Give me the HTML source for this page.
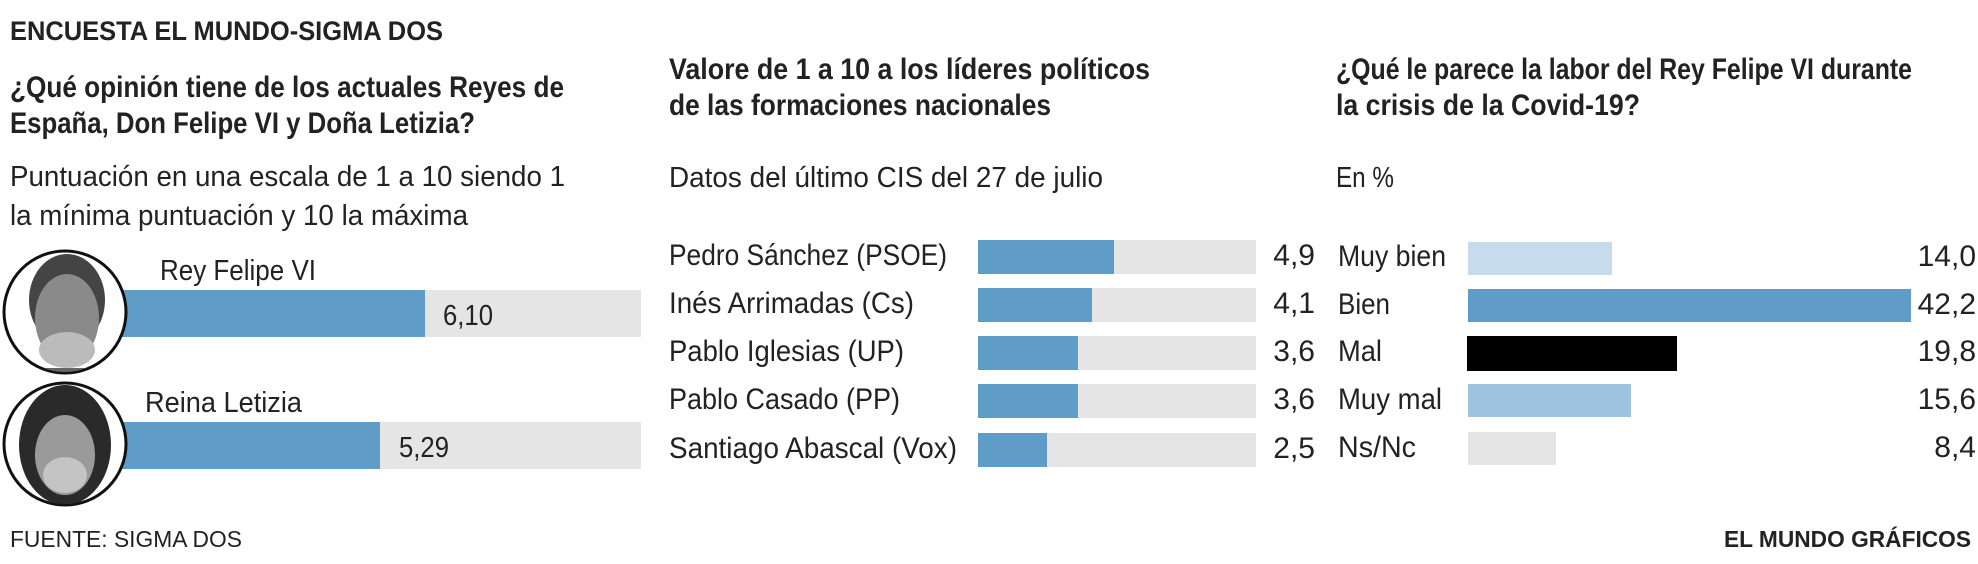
<!DOCTYPE html>
<html><head><meta charset="utf-8"><style>
html,body{margin:0;padding:0;background:#fff;}
svg{display:block;}
text{font-family:"Liberation Sans",sans-serif;fill:#222;}
.b{font-weight:bold;}
</style></head><body>
<svg width="1978" height="564" viewBox="0 0 1978 564" xmlns="http://www.w3.org/2000/svg">
<defs>
<clipPath id="c1"><circle cx="65" cy="312" r="60"/></clipPath>
<clipPath id="c2"><circle cx="65" cy="444" r="60"/></clipPath>
</defs>
<!-- title -->
<text x="10" y="40" class="b" font-size="27" textLength="433" lengthAdjust="spacingAndGlyphs">ENCUESTA EL MUNDO-SIGMA DOS</text>

<!-- Panel 1 -->
<text x="10" y="97" class="b" font-size="30" textLength="554" lengthAdjust="spacingAndGlyphs">¿Qué opinión tiene de los actuales Reyes de</text>
<text x="10" y="133" class="b" font-size="30" textLength="465" lengthAdjust="spacingAndGlyphs">España, Don Felipe VI y Doña Letizia?</text>
<text x="10" y="186" font-size="29" textLength="555" lengthAdjust="spacingAndGlyphs">Puntuación en una escala de 1 a 10 siendo 1</text>
<text x="10" y="225" font-size="29" textLength="458" lengthAdjust="spacingAndGlyphs">la mínima puntuación y 10 la máxima</text>

<text x="160" y="280" font-size="29" textLength="156" lengthAdjust="spacingAndGlyphs">Rey Felipe VI</text>
<rect x="121" y="290" width="520" height="47" fill="#e5e5e5"/>
<rect x="121" y="290" width="304" height="47" fill="#5f9cc7"/>
<text x="443" y="325" font-size="29" textLength="50" lengthAdjust="spacingAndGlyphs">6,10</text>

<text x="145" y="412" font-size="29" textLength="157" lengthAdjust="spacingAndGlyphs">Reina Letizia</text>
<rect x="121" y="422" width="520" height="47" fill="#e5e5e5"/>
<rect x="121" y="422" width="259" height="47" fill="#5f9cc7"/>
<text x="399" y="457" font-size="29" textLength="50" lengthAdjust="spacingAndGlyphs">5,29</text>

<circle cx="65" cy="312" r="61" fill="#fff" stroke="#111" stroke-width="3"/>
<g clip-path="url(#c1)">
<ellipse cx="67" cy="300" rx="38" ry="46" fill="#444"/>
<ellipse cx="67" cy="318" rx="32" ry="44" fill="#8a8a8a"/>
<ellipse cx="67" cy="350" rx="28" ry="18" fill="#bbb"/>
<rect x="35" y="368" width="65" height="10" fill="#666"/>
</g>
<circle cx="65" cy="444" r="61" fill="#fff" stroke="#111" stroke-width="3"/>
<g clip-path="url(#c2)">
<ellipse cx="65" cy="445" rx="46" ry="60" fill="#2a2a2a"/>
<ellipse cx="65" cy="455" rx="30" ry="40" fill="#9a9a9a"/>
<ellipse cx="65" cy="475" rx="22" ry="18" fill="#c4c4c4"/>
</g>

<!-- Panel 2 -->
<text x="669" y="79" class="b" font-size="30" textLength="481" lengthAdjust="spacingAndGlyphs">Valore de 1 a 10 a los líderes políticos</text>
<text x="669" y="115" class="b" font-size="30" textLength="382" lengthAdjust="spacingAndGlyphs">de las formaciones nacionales</text>
<text x="669" y="187" font-size="29" textLength="434" lengthAdjust="spacingAndGlyphs">Datos del último CIS del 27 de julio</text>

<g font-size="30">
<text x="669" y="265" textLength="278" lengthAdjust="spacingAndGlyphs">Pedro Sánchez (PSOE)</text>
<rect x="978" y="240" width="278" height="34" fill="#e5e5e5"/>
<rect x="978" y="240" width="136" height="34" fill="#5f9cc7"/>
<text x="1315" y="265" text-anchor="end">4,9</text>

<text x="669" y="313" textLength="245" lengthAdjust="spacingAndGlyphs">Inés Arrimadas (Cs)</text>
<rect x="978" y="288" width="278" height="34" fill="#e5e5e5"/>
<rect x="978" y="288" width="114" height="34" fill="#5f9cc7"/>
<text x="1315" y="313" text-anchor="end">4,1</text>

<text x="669" y="361" textLength="235" lengthAdjust="spacingAndGlyphs">Pablo Iglesias (UP)</text>
<rect x="978" y="336" width="278" height="34" fill="#e5e5e5"/>
<rect x="978" y="336" width="100" height="34" fill="#5f9cc7"/>
<text x="1315" y="361" text-anchor="end">3,6</text>

<text x="669" y="409" textLength="231" lengthAdjust="spacingAndGlyphs">Pablo Casado (PP)</text>
<rect x="978" y="384" width="278" height="34" fill="#e5e5e5"/>
<rect x="978" y="384" width="100" height="34" fill="#5f9cc7"/>
<text x="1315" y="409" text-anchor="end">3,6</text>

<text x="669" y="458" textLength="288" lengthAdjust="spacingAndGlyphs">Santiago Abascal (Vox)</text>
<rect x="978" y="433" width="278" height="34" fill="#e5e5e5"/>
<rect x="978" y="433" width="69" height="34" fill="#5f9cc7"/>
<text x="1315" y="458" text-anchor="end">2,5</text>
</g>

<!-- Panel 3 -->
<text x="1336" y="79" class="b" font-size="30" textLength="576" lengthAdjust="spacingAndGlyphs">¿Qué le parece la labor del Rey Felipe VI durante</text>
<text x="1336" y="115" class="b" font-size="30" textLength="304" lengthAdjust="spacingAndGlyphs">la crisis de la Covid-19?</text>
<text x="1336" y="187" font-size="29" textLength="58" lengthAdjust="spacingAndGlyphs">En %</text>

<g font-size="30">
<text x="1338" y="266" textLength="108" lengthAdjust="spacingAndGlyphs">Muy bien</text>
<rect x="1468" y="242" width="144" height="33" fill="#c6dbec"/>
<text x="1976" y="266" text-anchor="end">14,0</text>

<text x="1338" y="314" textLength="52" lengthAdjust="spacingAndGlyphs">Bien</text>
<rect x="1468" y="289" width="443" height="33" fill="#5f9cc7"/>
<text x="1976" y="314" text-anchor="end">42,2</text>

<text x="1338" y="361" textLength="44" lengthAdjust="spacingAndGlyphs">Mal</text>
<rect x="1467" y="336" width="210" height="35" fill="#000"/>
<text x="1976" y="361" text-anchor="end">19,8</text>

<text x="1338" y="409" textLength="104" lengthAdjust="spacingAndGlyphs">Muy mal</text>
<rect x="1468" y="384" width="163" height="33" fill="#9ec3e0"/>
<text x="1976" y="409" text-anchor="end">15,6</text>

<text x="1338" y="457" textLength="78" lengthAdjust="spacingAndGlyphs">Ns/Nc</text>
<rect x="1468" y="432" width="88" height="33" fill="#e5e5e5"/>
<text x="1976" y="457" text-anchor="end">8,4</text>
</g>

<!-- footer -->
<text x="10" y="547" font-size="23" textLength="232" lengthAdjust="spacingAndGlyphs">FUENTE: SIGMA DOS</text>
<text x="1971" y="547" class="b" font-size="23" text-anchor="end" textLength="247" lengthAdjust="spacingAndGlyphs">EL MUNDO GRÁFICOS</text>
</svg>
</body></html>
